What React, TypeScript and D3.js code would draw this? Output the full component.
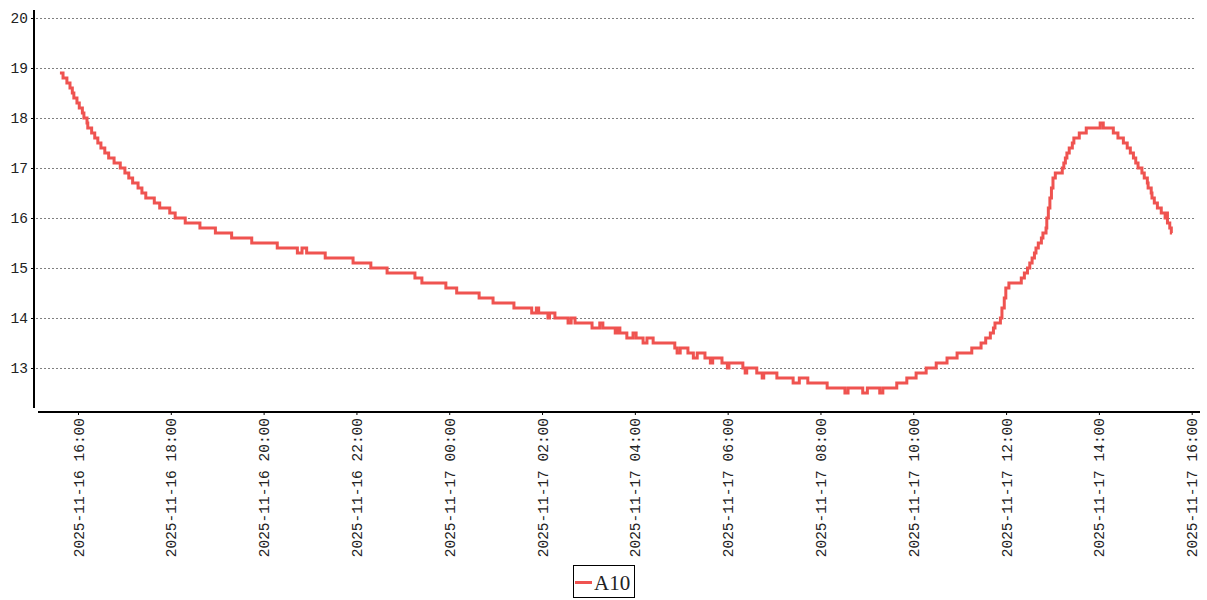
import React from "react";
import * as d3 from "d3";

const seriesName = "A10";
const startDate = new Date(2025, 10, 16, 16, 0);
const endDate = new Date(2025, 10, 17, 16, 0);
const yTicks = [13, 14, 15, 16, 17, 18, 19, 20];

// [minutes after 2025-11-16 16:00, temperature]
const readings: [number, number][] = [
  [-24, 18.9], [-20, 18.8], [-15, 18.7], [-11, 18.6], [-8, 18.5], [-6, 18.4], [-2, 18.3], [1, 18.2], [5, 18.1], [7, 18.0],
  [11, 17.9], [12, 17.8], [17, 17.7], [21, 17.6], [25, 17.5], [29, 17.4], [34, 17.3], [39, 17.2], [46, 17.1], [54, 17.0],
  [60, 16.9], [65, 16.8], [70, 16.7], [77, 16.6], [82, 16.5], [87, 16.4], [98, 16.3], [105, 16.2], [118, 16.1], [125, 16.0],
  [138, 15.9], [157, 15.8], [177, 15.7], [198, 15.6], [224, 15.5], [257, 15.4], [283, 15.3], [289, 15.4], [295, 15.3], [319, 15.2],
  [355, 15.1], [378, 15.0], [399, 14.9], [435, 14.8], [444, 14.7], [475, 14.6], [489, 14.5], [518, 14.4], [536, 14.3], [563, 14.2],
  [586, 14.1], [592, 14.2], [595, 14.1], [607, 14.0], [609, 14.1], [616, 14.0], [633, 13.9], [637, 14.0], [642, 13.9], [664, 13.8],
  [674, 13.9], [678, 13.8], [694, 13.7], [697, 13.8], [700, 13.7], [709, 13.6], [717, 13.7], [721, 13.6], [730, 13.5], [735, 13.6],
  [743, 13.5], [771, 13.4], [774, 13.3], [778, 13.4], [788, 13.3], [795, 13.2], [800, 13.3], [810, 13.2], [817, 13.1], [820, 13.2],
  [832, 13.1], [839, 13.0], [841, 13.1], [859, 13.0], [862, 12.9], [864, 13.0], [877, 12.9], [884, 12.8], [886, 12.9], [903, 12.8],
  [924, 12.7], [932, 12.8], [943, 12.7], [968, 12.6], [991, 12.5], [995, 12.6], [1014, 12.5], [1020, 12.6], [1036, 12.5], [1040, 12.6],
  [1058, 12.7], [1071, 12.8], [1083, 12.9], [1096, 13.0], [1109, 13.1], [1123, 13.2], [1136, 13.3], [1155, 13.4], [1167, 13.5], [1173, 13.6],
  [1179, 13.7], [1183, 13.8], [1185, 13.9], [1192, 14.0], [1194, 14.2], [1197, 14.4], [1199, 14.6], [1203, 14.7], [1219, 14.8], [1223, 14.9],
  [1227, 15.0], [1230, 15.1], [1233, 15.2], [1236, 15.3], [1238, 15.4], [1241, 15.5], [1245, 15.6], [1247, 15.7], [1251, 15.8], [1252, 16.0],
  [1254, 16.2], [1256, 16.4], [1258, 16.6], [1260, 16.8], [1263, 16.9], [1272, 17.0], [1274, 17.1], [1276, 17.2], [1278, 17.3], [1281, 17.4],
  [1285, 17.5], [1287, 17.6], [1294, 17.7], [1303, 17.8], [1321, 17.9], [1325, 17.8], [1338, 17.7], [1344, 17.6], [1351, 17.5], [1356, 17.4],
  [1360, 17.3], [1364, 17.2], [1367, 17.1], [1370, 17.0], [1375, 16.9], [1378, 16.8], [1382, 16.7], [1383, 16.6], [1387, 16.5], [1388, 16.4],
  [1391, 16.3], [1395, 16.2], [1400, 16.1], [1405, 16.0], [1406, 16.1], [1408, 15.9], [1411, 15.8], [1413, 15.7], [1414, 15.7],
];

const W = 1207;
const H = 600;
const LINE_COLOR = "#ef5350";
const MONO = "'Liberation Mono', 'DejaVu Sans Mono', monospace";
const SERIF = "'Liberation Serif', 'DejaVu Serif', serif";

export default function App() {
  const x = d3.scaleTime().domain([startDate, endDate]).range([78.5, 1192.2]);
  const y = d3.scaleLinear().domain([13, 20]).range([368, 18]);

  const pts = readings.map(([m, v]) => ({ t: new Date(startDate.getTime() + m * 60000), v }));
  const line = d3
    .line<{ t: Date; v: number }>()
    .x((d) => x(d.t))
    .y((d) => y(d.v))
    .curve(d3.curveStepAfter);

  const xTicks = x.ticks(d3.timeHour.every(2)!);
  const fmtDate = d3.timeFormat("%Y-%m-%d");
  const fmtTime = d3.timeFormat("%H:%M");

  const plotLeft = 36;
  const plotRight = 1195;
  const yAxisX = 34;
  const xAxisY = 412;

  return (
    <svg
      width={W}
      height={H}
      style={{ position: "absolute", left: 0, top: 0, background: "#fff" }}
    >
      {/* grid */}
      {yTicks.map((t) => (
        <line
          key={"g" + t}
          x1={plotLeft}
          x2={plotRight}
          y1={Math.round(y(t)) + 0.5}
          y2={Math.round(y(t)) + 0.5}
          stroke="#808080"
          strokeWidth={1}
          strokeDasharray="2,2"
        />
      ))}

      {/* y axis */}
      <line x1={yAxisX} x2={yAxisX} y1={y(20.16)} y2={y(12.2)} stroke="#000" strokeWidth={2} />
      {yTicks.map((t) => (
        <g key={"yt" + t}>
          <line x1={yAxisX - 3} x2={yAxisX} y1={Math.round(y(t)) + 0.5} y2={Math.round(y(t)) + 0.5} stroke="#000" strokeWidth={1} />
          <text
            x={28}
            y={y(t)}
            dy="0.35em"
            textAnchor="end"
            fontFamily={MONO}
            fontSize={14.5}
            fill="#222"
          >
            {t}
          </text>
        </g>
      ))}

      {/* x axis */}
      <line x1={38} x2={1200} y1={xAxisY} y2={xAxisY} stroke="#000" strokeWidth={2} />
      {xTicks.map((t, i) => {
        const px = x(t);
        return (
          <g key={"xt" + i}>
            <line x1={px} x2={px} y1={xAxisY} y2={xAxisY + 3} stroke="#000" strokeWidth={1} />
            <text
              transform={`translate(${px},${418}) rotate(-90)`}
              dy="0.35em"
              textAnchor="end"
              fontFamily={MONO}
              fontSize={14.5}
              fill="#222"
            >
              {fmtDate(t) + " " + fmtTime(t)}
            </text>
          </g>
        );
      })}

      {/* series */}
      <path d={line(pts) || ""} fill="none" stroke={LINE_COLOR} strokeWidth={3} />

      {/* legend */}
      <rect x={573.5} y={565.5} width={61} height={32} fill="#fff" stroke="#000" strokeWidth={1} />
      <line x1={575} x2={592} y1={582.5} y2={582.5} stroke={LINE_COLOR} strokeWidth={3} />
      <text x={594} y={589.5} fontFamily={SERIF} fontSize={21} fill="#222">
        {seriesName}
      </text>
    </svg>
  );
}
